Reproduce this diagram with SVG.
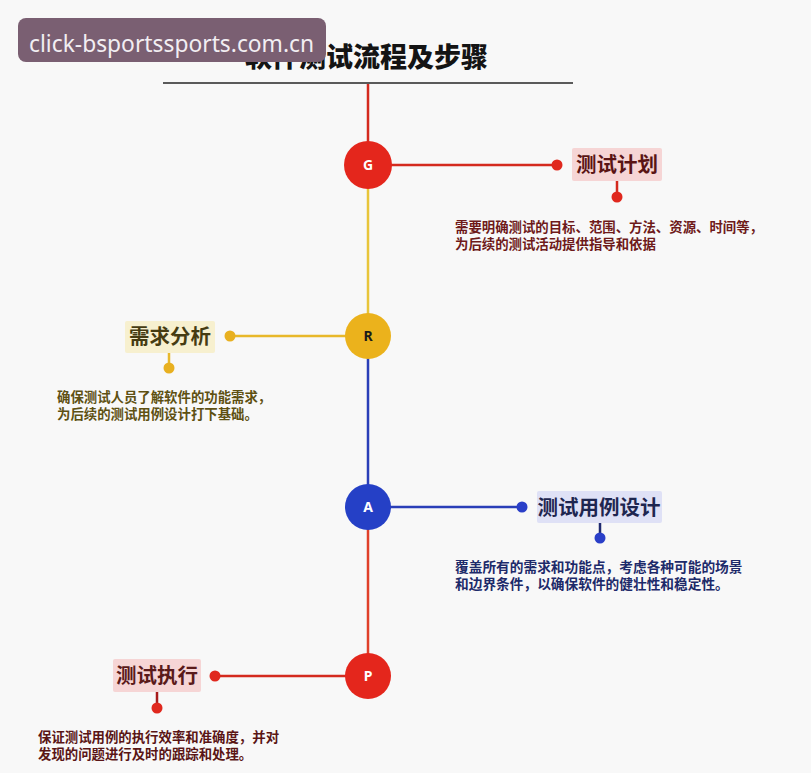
<svg xmlns="http://www.w3.org/2000/svg" width="811" height="773" viewBox="0 0 811 773">
<style>
.cjk{font-family:"Noto Sans CJK SC","Noto Sans",sans-serif;}
.title{font-size:27px;font-weight:900;fill:#141414;}
.lbl{font-size:20.5px;font-weight:700;}
.desc{font-size:13.4px;font-weight:700;}
.ctext{font-family:"Noto Sans","DejaVu Sans",sans-serif;font-size:14px;font-weight:700;text-anchor:middle;}
.ln{stroke-width:2.5;fill:none;}
</style>
<rect width="811" height="773" fill="#f8f8f8"/>
<g id="title">
<text class="cjk title" x="245" y="67">软件测试流程及步骤</text>
<line x1="163" y1="83" x2="573" y2="83" stroke="#5a5a5a" stroke-width="2"/>
</g>
<g id="connectors">
<line class="ln" x1="368" y1="84" x2="368" y2="165" stroke="#d42a1e"/>
<line class="ln" x1="368" y1="165" x2="368" y2="336" stroke="#e8c53a"/>
<line class="ln" x1="368" y1="336" x2="368" y2="507" stroke="#2a3fb8"/>
<line class="ln" x1="368" y1="507" x2="368" y2="676" stroke="#e0402a"/>
<line class="ln" x1="368" y1="165" x2="557" y2="165" stroke="#d42a1e"/>
<circle cx="557" cy="165" r="5.5" fill="#e0281e"/>
<line class="ln" x1="617" y1="181" x2="617" y2="197" stroke="#d42a1e"/>
<circle cx="617" cy="197" r="5.5" fill="#e0281e"/>
<line class="ln" x1="368" y1="336" x2="230" y2="336" stroke="#e8b82a"/>
<circle cx="230" cy="336" r="5.5" fill="#e8b020"/>
<line class="ln" x1="169" y1="353" x2="169" y2="368" stroke="#e8b82a"/>
<circle cx="169" cy="368" r="5.5" fill="#e8b020"/>
<line class="ln" x1="368" y1="507" x2="522" y2="507" stroke="#2a3fb8"/>
<circle cx="522" cy="507" r="5.5" fill="#2a3fc8"/>
<line class="ln" x1="600" y1="523" x2="600" y2="538" stroke="#1f2a70"/>
<circle cx="600" cy="538" r="5.5" fill="#2a3fc8"/>
<line class="ln" x1="368" y1="676" x2="215" y2="676" stroke="#d42a1e"/>
<circle cx="215" cy="676" r="5.5" fill="#e0281e"/>
<line class="ln" x1="157" y1="692" x2="157" y2="708" stroke="#a81a1a"/>
<circle cx="157" cy="708" r="5.5" fill="#e0281e"/>
</g>
<g id="node-G">
<circle cx="368" cy="165" r="24" fill="#e4261c"/>
<text class="ctext" x="368" y="170" fill="#ffffff">G</text>
</g>
<g id="node-R">
<circle cx="368" cy="336" r="23" fill="#ebb21c"/>
<text class="ctext" x="368" y="341" fill="#1a1a1a">R</text>
</g>
<g id="node-A">
<circle cx="368" cy="507" r="23" fill="#2540c6"/>
<text class="ctext" x="368" y="512" fill="#ffffff">A</text>
</g>
<g id="node-P">
<circle cx="368" cy="676" r="23" fill="#e4261c"/>
<text class="ctext" x="368" y="681" fill="#ffffff">P</text>
</g>
<g id="step-plan">
<rect x="572" y="148" width="90" height="33" rx="2" fill="#f6d5d5"/>
<text class="cjk lbl" x="617" y="172" text-anchor="middle" fill="#5a1414">测试计划</text>
<text class="cjk desc" x="455" y="232" fill="#6e1a1a">需要明确测试的目标、范围、方法、资源、时间等，</text>
<text class="cjk desc" x="455" y="249" fill="#6e1a1a">为后续的测试活动提供指导和依据</text>
</g>
<g id="step-analysis">
<rect x="125" y="321" width="90" height="32" rx="2" fill="#f7f0cf"/>
<text class="cjk lbl" x="170" y="344" text-anchor="middle" fill="#463c12">需求分析</text>
<text class="cjk desc" x="57" y="402" fill="#5e5012">确保测试人员了解软件的功能需求，</text>
<text class="cjk desc" x="57" y="419" fill="#5e5012">为后续的测试用例设计打下基础。</text>
</g>
<g id="step-design">
<rect x="537" y="491" width="125" height="32" rx="2" fill="#dfe1f6"/>
<text class="cjk lbl" x="599" y="515" text-anchor="middle" fill="#1e2650">测试用例设计</text>
<text class="cjk desc" x="455" y="572" fill="#1d2a6a" style="font-size:13.7px">覆盖所有的需求和功能点，考虑各种可能的场景</text>
<text class="cjk desc" x="455" y="589" fill="#1d2a6a" style="font-size:13.7px">和边界条件，以确保软件的健壮性和稳定性。</text>
</g>
<g id="step-exec">
<rect x="113" y="659" width="88" height="33" rx="2" fill="#f6d5d5"/>
<text class="cjk lbl" x="157" y="683" text-anchor="middle" fill="#5a1a1a">测试执行</text>
<text class="cjk desc" x="38" y="742" fill="#5a1515">保证测试用例的执行效率和准确度，并对</text>
<text class="cjk desc" x="38" y="759" fill="#5a1515">发现的问题进行及时的跟踪和处理。</text>
</g>
<g id="watermark">
<rect x="18" y="18" width="308" height="44" rx="8" fill="#7a5f72"/>
<text x="29" y="52" font-family="'Noto Sans','Open Sans',sans-serif" font-size="22.8" fill="#f2eef2">click-bsportssports.com.cn</text>
</g>
</svg>
